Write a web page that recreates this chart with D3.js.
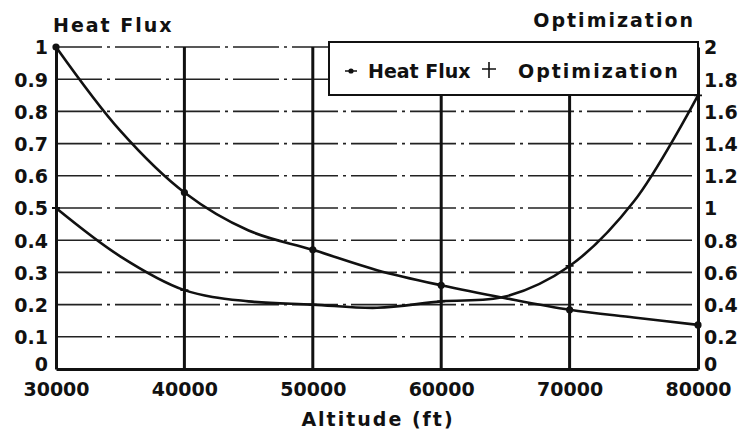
<!DOCTYPE html>
<html>
<head>
<meta charset="utf-8">
<script src="https://cdn.jsdelivr.net/npm/d3@7"></script>
<style>
  html, body { margin: 0; padding: 0; background: #fff; }
  svg text { font-family: "DejaVu Sans", sans-serif; font-weight: bold; fill: #111; }
</style>
</head>
<body>
<svg id="chart" width="742" height="435"></svg>
<script>
// Data
const altitude = [30000, 35000, 40000, 45000, 50000, 55000, 60000, 65000, 70000, 75000, 80000];
const heatFlux = [1.0, 0.74, 0.548, 0.43, 0.37, 0.307, 0.26, 0.22, 0.184, 0.16, 0.137];
const optimization = [1.0, 0.70, 0.49, 0.42, 0.40, 0.38, 0.42, 0.45, 0.64, 1.04, 1.70];
const markerAltitudes = [30000, 40000, 50000, 60000, 70000, 80000];
const xTicks = [30000, 40000, 50000, 60000, 70000, 80000];
const leftTicks = [0, 0.1, 0.2, 0.3, 0.4, 0.5, 0.6, 0.7, 0.8, 0.9, 1];
const leftTickLabels = ["0", "0.1", "0.2", "0.3", "0.4", "0.5", "0.6", "0.7", "0.8", "0.9", "1"];
const rightTicks = [0, 0.2, 0.4, 0.6, 0.8, 1, 1.2, 1.4, 1.6, 1.8, 2];
const rightTickLabels = ["0", "0.2", "0.4", "0.6", "0.8", "1", "1.2", "1.4", "1.6", "1.8", "2"];
const verticalGrid = [40000, 50000, 60000, 70000];
const leftTitle = "Heat Flux";
const rightTitle = "Optimization";
const xTitle = "Altitude (ft)";
const seriesNames = ["Heat Flux", "Optimization"];

const svg = d3.select("#chart");
const L = 56, R = 698, T = 47, B = 369;

const x = d3.scaleLinear().domain([30000, 80000]).range([L, R]);
const yL = d3.scaleLinear().domain([0, 1]).range([B, T]);
const yR = d3.scaleLinear().domain([0, 2]).range([B, T]);

// horizontal dashed gridlines
svg.append("g").selectAll("line")
  .data(leftTicks.filter(d => d > 0))
  .join("line")
  .attr("x1", L).attr("x2", R)
  .attr("y1", d => yL(d)).attr("y2", d => yL(d))
  .attr("stroke", "#222").attr("stroke-width", 1.6)
  .attr("stroke-dasharray", "46,5,3,5");

// vertical solid gridlines
svg.append("g").selectAll("line")
  .data(verticalGrid)
  .join("line")
  .attr("x1", d => x(d)).attr("x2", d => x(d))
  .attr("y1", B).attr("y2", T)
  .attr("stroke", "#111").attr("stroke-width", 3);

// axes (drawn with d3 axes, lines restyled)
const xAxis = svg.append("g").attr("transform", `translate(0,${B})`)
  .call(d3.axisBottom(x).tickValues(xTicks).tickSize(0).tickFormat(d3.format("d")));
xAxis.select(".domain").attr("stroke", "#111").attr("stroke-width", 3);
xAxis.selectAll("text").attr("font-size", 19).attr("dy", 0).attr("y", 27)
  .style("font-family", "DejaVu Sans").style("font-weight", "bold").attr("fill", "#111");

const lAxis = svg.append("g").attr("transform", `translate(${L},0)`)
  .call(d3.axisLeft(yL).tickValues(leftTicks).tickSize(0).tickFormat((d, i) => leftTickLabels[i]));
lAxis.select(".domain").attr("stroke", "#111").attr("stroke-width", 3);
lAxis.selectAll("text").attr("font-size", 19).attr("x", -8)
  .attr("dy", d => d === 0 ? "0.1em" : "0.36em")
  .style("font-family", "DejaVu Sans").style("font-weight", "bold").attr("fill", "#111");

const rAxis = svg.append("g").attr("transform", `translate(${R},0)`)
  .call(d3.axisRight(yR).tickValues(rightTicks).tickSize(0).tickFormat((d, i) => rightTickLabels[i]));
rAxis.select(".domain").attr("stroke", "#111").attr("stroke-width", 3);
rAxis.selectAll("text").attr("font-size", 19).attr("x", 6)
  .attr("dy", d => d === 0 ? "0.1em" : "0.36em")
  .style("font-family", "DejaVu Sans").style("font-weight", "bold").attr("fill", "#111");

// curves
const hfLine = d3.line().x((d, i) => x(altitude[i])).y(d => yL(d)).curve(d3.curveCatmullRom);
const opLine = d3.line().x((d, i) => x(altitude[i])).y(d => yR(d)).curve(d3.curveCatmullRom);

svg.append("path").attr("d", hfLine(heatFlux))
  .attr("fill", "none").attr("stroke", "#111").attr("stroke-width", 2.6);
svg.append("path").attr("d", opLine(optimization))
  .attr("fill", "none").attr("stroke", "#111").attr("stroke-width", 2.6);

// markers
const hfPts = altitude.map((a, i) => ({a, v: heatFlux[i]})).filter(p => markerAltitudes.includes(p.a));
svg.append("g").selectAll("circle").data(hfPts).join("circle")
  .attr("cx", d => x(d.a)).attr("cy", d => yL(d.v)).attr("r", 3.6).attr("fill", "#111");

const opPts = altitude.map((a, i) => ({a, v: optimization[i]})).filter(p => markerAltitudes.includes(p.a));
svg.append("g").selectAll("path").data(opPts).join("path")
  .attr("d", d => `M${x(d.a) - 4},${yR(d.v)}H${x(d.a) + 4}M${x(d.a)},${yR(d.v) - 5}V${yR(d.v) + 5}`)
  .attr("stroke", "#111").attr("stroke-width", 1.8);

// titles
svg.append("text").attr("x", 53).attr("y", 32).attr("font-size", 19)
  .attr("letter-spacing", 2).text(leftTitle);
svg.append("text").attr("x", 695).attr("y", 27).attr("font-size", 19)
  .attr("text-anchor", "end").attr("letter-spacing", 2).text(rightTitle);
svg.append("text").attr("x", 378).attr("y", 426).attr("font-size", 19)
  .attr("text-anchor", "middle").attr("letter-spacing", 2).text(xTitle);

// legend
const lg = svg.append("g");
lg.append("rect").attr("x", 329).attr("y", 42).attr("width", R - 329).attr("height", 53)
  .attr("fill", "#fff").attr("stroke", "#111").attr("stroke-width", 2);
lg.append("circle").attr("cx", 351).attr("cy", 71).attr("r", 2.6).attr("fill", "#111");
lg.append("line").attr("x1", 345).attr("x2", 357).attr("y1", 71).attr("y2", 71)
  .attr("stroke", "#111").attr("stroke-width", 1.5);
lg.append("text").attr("x", 368).attr("y", 78).attr("font-size", 19)
  .attr("letter-spacing", 0).text(seriesNames[0]);
lg.append("path").attr("d", "M482,69H496M489,62V78").attr("stroke", "#111").attr("stroke-width", 1.6);
lg.append("text").attr("x", 518).attr("y", 78).attr("font-size", 19)
  .attr("letter-spacing", 2).text(seriesNames[1]);
</script>
</body>
</html>
